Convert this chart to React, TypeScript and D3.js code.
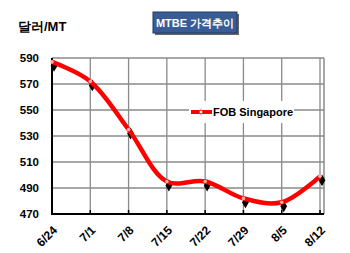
import React from "react";
import * as d3 from "d3";

const categories = ["6/24", "7/1", "7/8", "7/15", "7/22", "7/29", "8/5", "8/12"];
const fobSingapore = [587, 572, 535, 495, 495, 482, 479, 499];
const yTicks = [470, 490, 510, 530, 550, 570, 590];
const seriesName = "FOB Singapore";
const title = "MTBE 가격추이";
const unitLabel = "달러/MT";

export default function App() {
  const W = 350, H = 253;
  const left = 52, right = 320, top = 58, bottom = 214;
  const x = d3.scalePoint<string>().domain(categories).range([left, right]);
  const y = d3.scaleLinear().domain([470, 590]).range([bottom, top]);
  const pts: [number, number][] = categories.map((c, i) => [x(c)!, y(fobSingapore[i])]);
  const line = d3.line().curve(d3.curveCatmullRom.alpha(0.5))(pts) || "";
  const font = "Arial, 'Liberation Sans', sans-serif";
  const diamond = d3.symbol().type(d3.symbolDiamond).size(40)() || "";
  return (
    <svg width={W} height={H} style={{ position: "absolute", left: 0, top: 0 }} fontFamily={font}>
      <rect width={W} height={H} fill="#fff" />
      {yTicks.map((t) => (
        <line key={"h" + t} x1={left} x2={324} y1={y(t)} y2={y(t)} stroke="#8a8a8a" strokeWidth={1.3} />
      ))}
      {categories.map((c) => (
        <line key={"v" + c} x1={x(c)} x2={x(c)} y1={top} y2={bottom} stroke="#8a8a8a" strokeWidth={1.3} />
      ))}
      <line x1={324} x2={324} y1={top} y2={bottom} stroke="#8a8a8a" strokeWidth={1.5} />
      <rect x={189} y={101} width={105} height={22} fill="#fff" />
      <line x1={191} x2={212} y1={112} y2={112} stroke="#ff0000" strokeWidth={4} />
      <circle cx={201} cy={112} r={2} fill="#fff" stroke="#ff0000" strokeWidth={1} />
      <text x={213} y={116} fontSize={11} fontWeight="bold" fill="#000">{seriesName}</text>
      <line x1={left} x2={left} y1={top} y2={bottom + 1} stroke="#000" strokeWidth={2} />
      <line x1={left - 1} x2={324} y1={bottom} y2={bottom} stroke="#000" strokeWidth={2} />
      {categories.map((c) => (
        <line key={"t" + c} x1={x(c)} x2={x(c)} y1={bottom} y2={bottom - 4} stroke="#000" strokeWidth={1.5} />
      ))}
      {yTicks.map((t) => (
        <text key={"yl" + t} x={39} y={y(t) + 4} textAnchor="end" fontSize={11.5} fontWeight="bold" fill="#000">{t}</text>
      ))}
      {categories.map((c) => (
        <text key={"xl" + c} transform={`translate(${x(c)! + 6},${bottom + 17}) rotate(-45)`} textAnchor="end" fontSize={12} fontWeight="bold" fill="#000">{c}</text>
      ))}
      {pts.map(([px, py], i) => (
        <path key={"m" + i} d={diamond} transform={`translate(${px + 2},${py + 4})`} fill="#000" />
      ))}
      <path d={line} fill="none" stroke="#ff0000" strokeWidth={4.5} strokeLinejoin="round" />
      {pts.map(([px, py], i) => (
        <circle key={"c" + i} cx={px} cy={py} r={1.8} fill="#ffb0b0" />
      ))}
      <rect x={155} y={14} width={84} height={21} fill="#000" opacity={0.6} />
      <rect x={153} y={12} width={84} height={21} fill="#3a5c96" stroke="#1f3a66" strokeWidth={1} />
      <text x={195} y={27} textAnchor="middle" fontSize={11} fontWeight="bold" fill="#fff">{title}</text>
      <text x={18} y={31} fontSize={13} fontWeight="bold" fill="#000">{unitLabel}</text>
    </svg>
  );
}
